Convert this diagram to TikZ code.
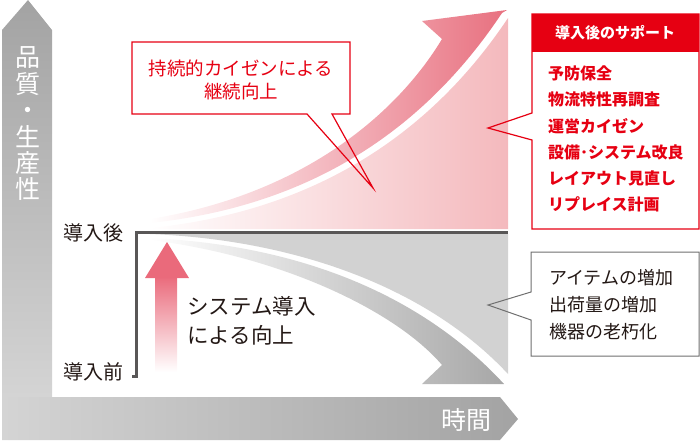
\documentclass[tikz,border=0pt]{standalone}
\usepackage{fontspec}
\setmainfont{Noto Sans CJK JP}
\definecolor{cred}{HTML}{E60012}
\definecolor{arrowred}{HTML}{E8707F}
\definecolor{pinkreg}{HTML}{F4B9BD}
\definecolor{uppink}{HTML}{EA6A7B}
\definecolor{grayarrow}{HTML}{A7A7A7}
\definecolor{grayreg}{HTML}{D2D2D2}
\definecolor{axisdark}{HTML}{A3A3A3}
\definecolor{axislight}{HTML}{D4D4D4}
\definecolor{linegray}{HTML}{595757}
\definecolor{txtdark}{HTML}{231815}
\definecolor{boxgray}{HTML}{6F6F6F}
\tikzset{
  lbl/.style={inner sep=0pt, text=txtdark},
  calloutred/.style={draw=cred, line width=1.2pt, line join=miter},
  calloutgray/.style={draw=boxgray, line width=1pt, line join=miter},
}
\begin{document}
\begin{tikzpicture}[x=1pt,y=-1pt]
\useasboundingbox (0,0) rectangle (700,442);
% axes
\shade[top color=axisdark, bottom color=axislight] (2,30) -- (28,0) -- (52,30) -- (52,397) -- (2,397) -- cycle;
\shade[left color=axislight, right color=axisdark] (2,397) -- (500,397) -- (518,419) -- (500,440) -- (2,440) -- cycle;
\node[inner sep=0pt, text=white, align=center, font=\fontsize{25}{26.4}\selectfont] (ylab) at (28,124) {品\\質\\・\\生\\産\\性};
\node[inner sep=0pt, text=white, font=\fontsize{25}{30}\selectfont] (xlab) at (466,420) {時間};
% pink region
\shade[left color=white, right color=pinkreg] (150,229) -- (508,229) -- (508,18) .. controls (440,120) and (330,210) .. (150,228) -- cycle;
% red arrow
\shade[left color=white, right color=arrowred] (150,223) .. controls (330,204) and (436,112) .. (502,13) -- (507,10) -- (422,21) -- (442,39) .. controls (398,112) and (305,194) .. (150,219) -- cycle;
% gray region
\fill[grayreg] (150,234) -- (508,234) -- (508,374) .. controls (430,290) and (300,240) .. (150,234) -- cycle;
% gray arrow
\shade[left color=white, right color=grayarrow] (150,238) .. controls (300,245) and (422,295) .. (504,384) -- (422,384) -- (442,365) .. controls (395,310) and (280,256) .. (150,240) -- cycle;
% bracket
\coordinate (bl) at (132,376);
\coordinate (bb) at (136,376);
\coordinate (bt) at (136,232);
\coordinate (br) at (508,232);
\draw[linegray, line width=3pt, line join=miter] (bl) -- (bb) -- (bt) -- (br);
% up arrow
\shade[top color=uppink, bottom color=white] (155,276) -- (177,276) -- (177,372) -- (155,372) -- cycle;
\fill[uppink] (145,278) -- (167,242) -- (189,278) -- cycle;
\node[lbl, anchor=west, align=left, font=\fontsize{21.5}{29}\selectfont] (sys) at (187,321) {システム導入\\による向上};
% labels
\node[lbl, anchor=east, font=\fontsize{20}{24}\selectfont] (after) at (124,233) {導入後};
\node[lbl, anchor=east, font=\fontsize{20}{24}\selectfont] (before) at (124,372) {導入前};
% callout 1
\draw[calloutred] (132,42) -- (350,42) -- (350,114) -- (332,114) -- (373,188) -- (307,114) -- (132,114) -- cycle;
\node[inner sep=0pt, text=cred, align=center, font=\fontsize{18.5}{23}\selectfont] (c1) at (241,80) {持続的カイゼンによる\\継続向上};
% callout 2
\fill[cred] (532,14) rectangle (699,52);
\draw[calloutred] (532,14) -- (699,14) -- (699,229) -- (532,229) -- (532,140) -- (488,128) -- (532,113) -- cycle;
\node[inner sep=0pt, text=white, font=\bfseries\fontsize{15}{18}\selectfont] (c2h) at (615,33) {導入後のサポート};
\node[inner sep=0pt, text=cred, anchor=west, align=left, font=\bfseries\fontsize{16}{26.2}\selectfont] (c2) at (548,139) {予防保全\\物流特性再調査\\運営カイゼン\\設備･システム改良\\レイアウト見直し\\リプレイス計画};
% callout 3
\draw[calloutgray] (531,252) -- (699,252) -- (699,356) -- (531,356) -- (531,320) -- (488,305) -- (531,292) -- cycle;
\node[lbl, anchor=west, align=left, font=\fontsize{18}{27}\selectfont] (c3) at (549,305) {アイテムの増加\\出荷量の増加\\機器の老朽化};
\end{tikzpicture}
\end{document}
